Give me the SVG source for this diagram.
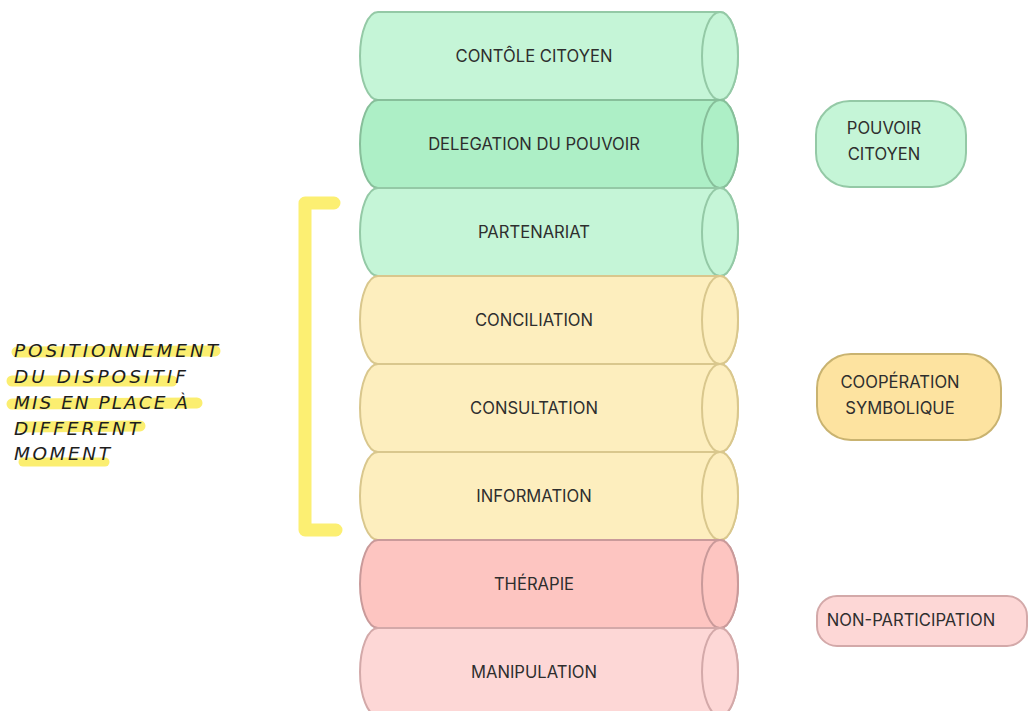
<svg xmlns="http://www.w3.org/2000/svg" width="1028" height="711" viewBox="0 0 1028 711">
<style>
.lbl{font-family:Inter,"Liberation Sans",sans-serif;font-size:16.6px;fill:#2e2e2e;text-anchor:middle}
.hand{font-family:"DejaVu Sans","Liberation Sans",sans-serif;font-style:oblique;font-weight:300;font-size:18.5px;fill:#1e1e1e}
.g1{fill:#c5f5d7;stroke:#94c9a6;stroke-width:2}
.g2{fill:#adefc6;stroke:#87bf9a;stroke-width:2}
.y1{fill:#fdeebe;stroke:#d9c78d;stroke-width:2}
.r1{fill:#fdc5c1;stroke:#c99a9a;stroke-width:2}
.r2{fill:#fdd7d6;stroke:#d3a9a9;stroke-width:2}
.o1{fill:#fde3a0;stroke:#c9b370;stroke-width:2}
.hl{fill:none;stroke:#fbee70;stroke-linecap:round}
</style>
<rect width="1028" height="711" fill="#ffffff"/>
<defs>
<path id="cyl" d="M378,0 L720,0 A18,44 0 0 1 720,88 L378,88 A18,44 0 0 1 378,0 Z"/>
<ellipse id="cap" cx="720" cy="44" rx="18" ry="44"/>
</defs>
<g id="connectors"></g>
<g id="n1" transform="translate(0,12)"><use href="#cyl" class="g1"/><use href="#cap" class="g1"/><text class="lbl" x="534" y="50">CONTÔLE CITOYEN</text></g>
<g id="n2" transform="translate(0,100)"><use href="#cyl" class="g2"/><use href="#cap" class="g2"/><text class="lbl" x="534" y="50">DELEGATION DU POUVOIR</text></g>
<g id="n3" transform="translate(0,188)"><use href="#cyl" class="g1"/><use href="#cap" class="g1"/><text class="lbl" x="534" y="50">PARTENARIAT</text></g>
<g id="n4" transform="translate(0,276)"><use href="#cyl" class="y1"/><use href="#cap" class="y1"/><text class="lbl" x="534" y="50">CONCILIATION</text></g>
<g id="n5" transform="translate(0,364)"><use href="#cyl" class="y1"/><use href="#cap" class="y1"/><text class="lbl" x="534" y="50">CONSULTATION</text></g>
<g id="n6" transform="translate(0,452)"><use href="#cyl" class="y1"/><use href="#cap" class="y1"/><text class="lbl" x="534" y="50">INFORMATION</text></g>
<g id="n7" transform="translate(0,540)"><use href="#cyl" class="r1"/><use href="#cap" class="r1"/><text class="lbl" x="534" y="50">THÉRAPIE</text></g>
<g id="n8" transform="translate(0,628)"><use href="#cyl" class="r2"/><use href="#cap" class="r2"/><text class="lbl" x="534" y="50">MANIPULATION</text></g>
<g id="pouvoir"><rect class="g1" x="816" y="101" width="150" height="86" rx="34"/><text class="lbl" x="884" y="134">POUVOIR</text><text class="lbl" x="884" y="160">CITOYEN</text></g>
<g id="cooperation"><rect class="o1" x="817" y="354" width="184" height="86" rx="34"/><text class="lbl" x="900" y="388">COOPÉRATION</text><text class="lbl" x="900" y="414">SYMBOLIQUE</text></g>
<g id="nonparticipation"><rect class="r2" x="817" y="596" width="210" height="50" rx="20"/><text class="lbl" x="911" y="626">NON-PARTICIPATION</text></g>
<g id="bracket"><path d="M334,203 L305,203 L305,530 L336,530" fill="none" stroke="#fcef72" stroke-width="13" stroke-linejoin="round" stroke-linecap="round"/></g>
<g id="note">
<path class="hl" d="M17,352 L215,351" stroke-width="11"/>
<path class="hl" d="M12,381 L172,381" stroke-width="11"/>
<path class="hl" d="M12,404 L197,403" stroke-width="11"/>
<path class="hl" d="M22,427 L140,426" stroke-width="11"/>
<path class="hl" d="M23,462 L105,462" stroke-width="9"/>
<text class="hand" x="14" y="357" textLength="204" lengthAdjust="spacing">POSITIONNEMENT</text>
<text class="hand" x="14" y="383" textLength="172" lengthAdjust="spacing">DU DISPOSITIF</text>
<text class="hand" x="14" y="409" textLength="174" lengthAdjust="spacing">MIS EN PLACE À</text>
<text class="hand" x="14" y="435" textLength="126" lengthAdjust="spacing">DIFFERENT</text>
<text class="hand" x="14" y="460" textLength="96" lengthAdjust="spacing">MOMENT</text>
</g>
</svg>
